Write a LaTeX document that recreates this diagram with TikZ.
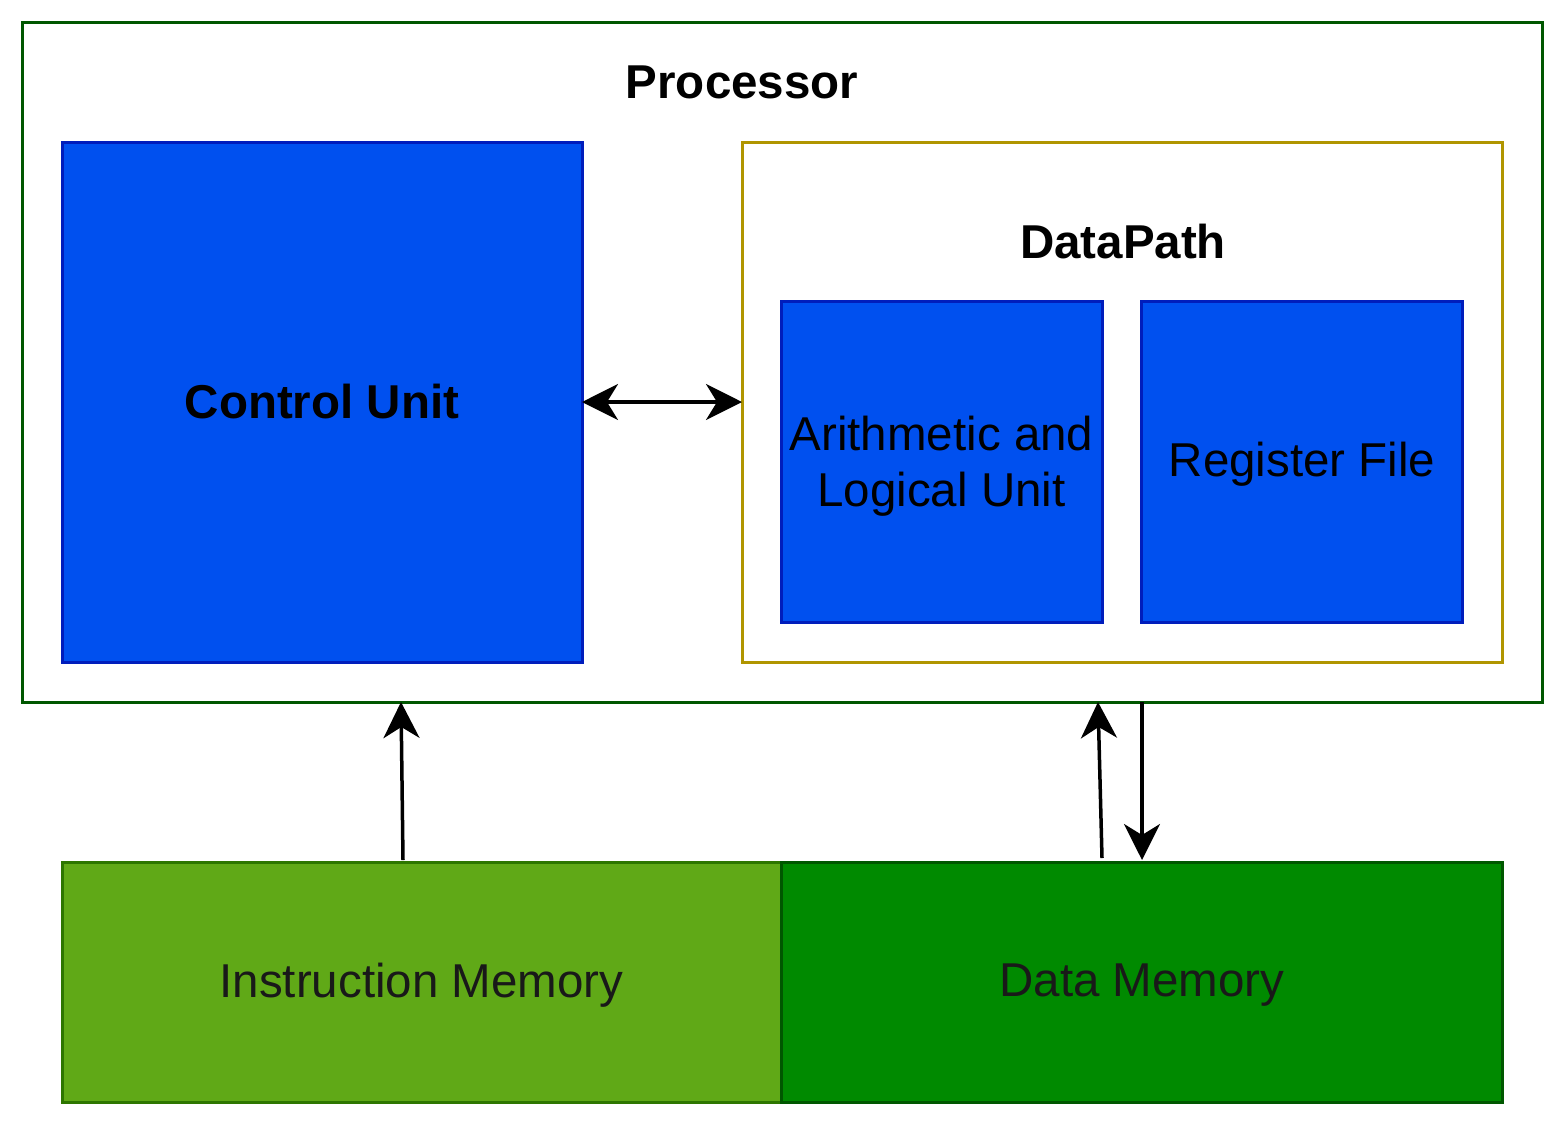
\documentclass[tikz,border=0pt]{standalone}
\usepackage{fontspec}
\setmainfont{Liberation Sans}
\usetikzlibrary{arrows.meta}
\definecolor{procgreen}{HTML}{005700}
\definecolor{dpgold}{HTML}{B09500}
\definecolor{bluefill}{HTML}{0050EF}
\definecolor{blueline}{HTML}{001DBC}
\definecolor{imfill}{HTML}{60A917}
\definecolor{imline}{HTML}{2D7600}
\definecolor{dmfill}{HTML}{008A00}
\definecolor{dmline}{HTML}{005700}
\begin{document}
\begin{tikzpicture}[x=1pt,y=-1pt,
  box/.style={draw, line width=3pt, inner sep=0pt, outer sep=0pt, rectangle},
  bluebox/.style={box, draw=blueline, fill=bluefill, align=center},
  lbl/.style={font=\fontsize{47.5}{56}\selectfont, align=center, inner sep=0pt},
  arr/.style={line width=3.5pt, -{Stealth[length=36pt,width=36pt,inset=11pt]}},
  darr/.style={line width=3.5pt, {Stealth[length=36pt,width=36pt,inset=11pt]}-{Stealth[length=36pt,width=36pt,inset=11pt]}}
]
\useasboundingbox (0,0) rectangle (1568,1128);
\node[box, draw=procgreen, minimum width=1520pt, minimum height=680pt] (proc) at (782,362) {};
\node[lbl, font=\fontsize{47.5}{56}\selectfont\bfseries] (proct) at (742,82) {Processor};
\node[bluebox, minimum width=520pt, minimum height=520pt] (cu) at (322,402) {};
\node[lbl, font=\fontsize{47.5}{56}\selectfont\bfseries] (cut) at (322,402) {Control Unit};
\node[box, draw=dpgold, minimum width=760pt, minimum height=520pt] (dp) at (1122,402) {};
\node[lbl, font=\fontsize{47.5}{56}\selectfont\bfseries] (dpt) at (1123,242) {DataPath};
\node[bluebox, minimum width=321pt, minimum height=321pt] (alu) at (941.5,461.5) {};
\node[lbl] (alut) at (941.5,466) {Arithmetic and\\Logical Unit};
\node[bluebox, minimum width=321pt, minimum height=321pt] (rf) at (1301.5,461.5) {};
\node[lbl] (rft) at (1302,464) {Register File};
\node[box, draw=imline, fill=imfill, minimum width=719pt, minimum height=240pt] (im) at (421.5,982) {};
\node[lbl, text=black!90] (imt) at (421.5,985) {Instruction Memory};
\node[box, draw=dmline, fill=dmfill, minimum width=721pt, minimum height=240pt] (dm) at (1141.5,982) {};
\node[lbl, text=black!90] (dmt) at (1142,985) {Data Memory};
\draw[darr] (cu.east |- 0,402) -- (dp.west |- 0,402);
\coordinate (a1s) at (403,860);
\coordinate (a1e) at (401,702);
\coordinate (a2s) at (1102,858);
\coordinate (a2e) at (1098,702);
\coordinate (a3s) at (1142,702);
\coordinate (a3e) at (1142,860);
\draw[arr] (a1s) -- (a1e);
\draw[arr] (a2s) -- (a2e);
\draw[arr] (a3s) -- (a3e);
\end{tikzpicture}
\end{document}
